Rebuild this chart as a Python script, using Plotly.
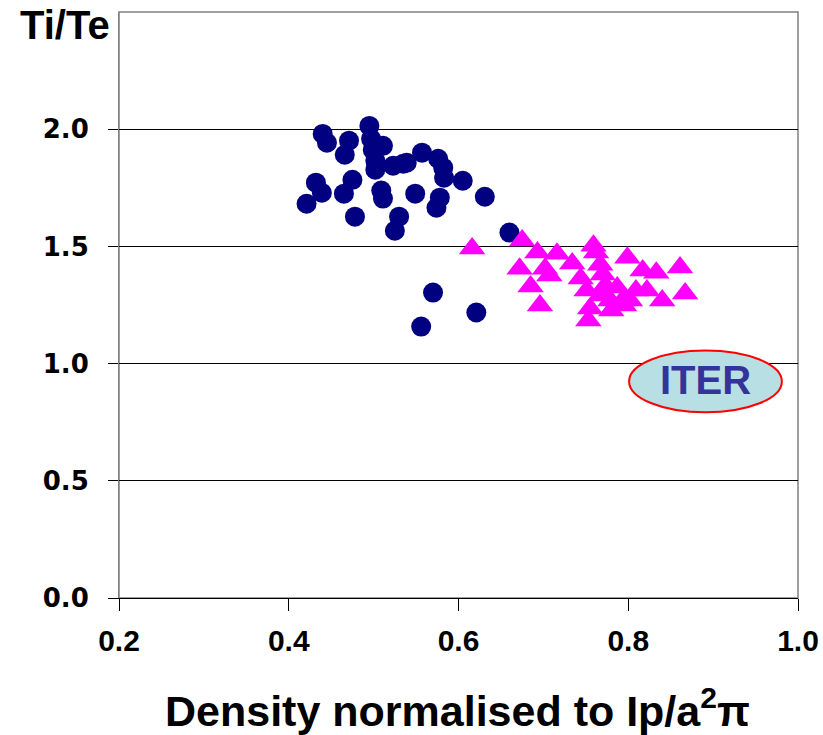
import plotly.graph_objects as go

# Blue circles (data set 1)
circle_x = [0.421, 0.432, 0.439, 0.440, 0.445, 0.465, 0.466, 0.471, 0.475, 0.478,
            0.495, 0.497, 0.499, 0.502, 0.502, 0.511, 0.509, 0.511, 0.523, 0.535,
            0.539, 0.525, 0.530, 0.549, 0.557, 0.574, 0.578, 0.576, 0.582, 0.583,
            0.605, 0.631, 0.660, 0.570, 0.556, 0.621]
circle_y = [1.682, 1.772, 1.729, 1.980, 1.942, 1.725, 1.891, 1.951, 1.784, 1.627,
            2.014, 1.959, 1.912, 1.865, 1.827, 1.929, 1.738, 1.704, 1.844, 1.853,
            1.857, 1.567, 1.627, 1.725, 1.900, 1.665, 1.708, 1.874, 1.836, 1.793,
            1.780, 1.712, 1.559, 1.303, 1.158, 1.218]

# Magenta triangles (data set 2)
tri_x = [0.616, 0.675, 0.693, 0.716, 0.672, 0.702, 0.707, 0.685, 0.696, 0.734,
         0.759, 0.762, 0.744, 0.767, 0.770, 0.751, 0.755, 0.753, 0.767, 0.773,
         0.779, 0.799, 0.817, 0.833, 0.861, 0.867, 0.822, 0.840, 0.787, 0.793,
         0.780, 0.802, 0.809, 0.795]
tri_y = [1.491, 1.525, 1.474, 1.469, 1.405, 1.405, 1.376, 1.329, 1.248, 1.427,
         1.503, 1.474, 1.363, 1.422, 1.380, 1.312, 1.235, 1.184, 1.290, 1.333,
         1.269, 1.452, 1.397, 1.388, 1.410, 1.299, 1.312, 1.269, 1.325, 1.269,
         1.227, 1.269, 1.312, 1.248]

y_ticks = [0.0, 0.5, 1.0, 1.5, 2.0]
y_tick_text = ["0.0", "0.5", "1.0", "1.5", "2.0"]
x_ticks = [0.2, 0.4, 0.6, 0.8, 1.0]
x_tick_text = ["0.2", "0.4", "0.6", "0.8", "1.0"]

W, H = 823, 735
ML, MR, MT, MB = 119, 25, 12, 137
plot_w = W - ML - MR
plot_h = H - MT - MB


def px_to_paper(px, py):
    return (px - ML) / plot_w, (H - MB - py) / plot_h


fig = go.Figure()
fig.add_trace(go.Scatter(x=circle_x, y=circle_y, mode="markers",
                         marker=dict(symbol="circle", size=20, color="#000080",
                                     line=dict(width=0)),
                         showlegend=False, hoverinfo="x+y"))
fig.add_trace(go.Scatter(x=tri_x, y=tri_y, mode="markers",
                         marker=dict(symbol="triangle-up", size=23, color="#FF00FF",
                                     line=dict(width=0)),
                         showlegend=False, hoverinfo="x+y"))

fig.update_layout(
    template="none",
    width=W, height=H,
    margin=dict(l=ML, r=MR, t=MT, b=MB, autoexpand=False),
    paper_bgcolor="white", plot_bgcolor="white",
    font=dict(family="Liberation Sans, Arial, sans-serif", color="black"),
    xaxis=dict(range=[0.2, 1.0], tickvals=x_ticks, ticktext=x_tick_text,
               automargin=False,
               showgrid=False, zeroline=False, showline=True, linecolor="black",
               linewidth=1, ticks="outside", ticklen=12, tickcolor="black",
               tickfont=dict(family="Liberation Sans", size=30, color="black", weight="bold"),
               ticklabelstandoff=4),
    yaxis=dict(range=[0, 2.5], tickvals=y_ticks, ticktext=y_tick_text,
               automargin=False,
               showgrid=True, gridcolor="black", gridwidth=1, zeroline=False,
               showline=True, linecolor="#808080", linewidth=1,
               ticks="outside", ticklen=10, tickcolor="black",
               tickfont=dict(family="DejaVu Sans", size=26, color="black", weight="bold"),
               ticklabelstandoff=14),
)

# grey frame around the plot area (top and right)
fig.add_shape(type="rect", xref="paper", yref="paper", x0=0, x1=1, y0=0, y1=1,
              line=dict(color="#808080", width=1.5), fillcolor="rgba(0,0,0,0)", layer="below")

# ITER ellipse
fig.add_shape(type="circle", xref="x", yref="y", x0=0.801, x1=0.981, y0=0.792, y1=1.056,
              line=dict(color="#FF0000", width=2), fillcolor="#B8DFE3", layer="above")
fig.add_annotation(x=0.891, y=0.930, xref="x", yref="y", text="<b>ITER</b>",
                   showarrow=False,
                   font=dict(family="Liberation Sans", size=40, color="#333399"))

# Axis titles
tx, ty = px_to_paper(457, 708)
fig.add_annotation(x=tx, y=ty, xref="paper", yref="paper",
                   text="<b>Density normalised to Ip/a<sup>2</sup>π</b>",
                   showarrow=False, xanchor="center", yanchor="middle",
                   font=dict(family="Liberation Sans", size=43, color="black"))
ax, ay = px_to_paper(65, 25)
fig.add_annotation(x=ax, y=ay, xref="paper", yref="paper",
                   text="<b>Ti/Te</b>", showarrow=False,
                   xanchor="center", yanchor="middle",
                   font=dict(family="Liberation Sans", size=40, color="black"))

fig.write_html("out.html")
